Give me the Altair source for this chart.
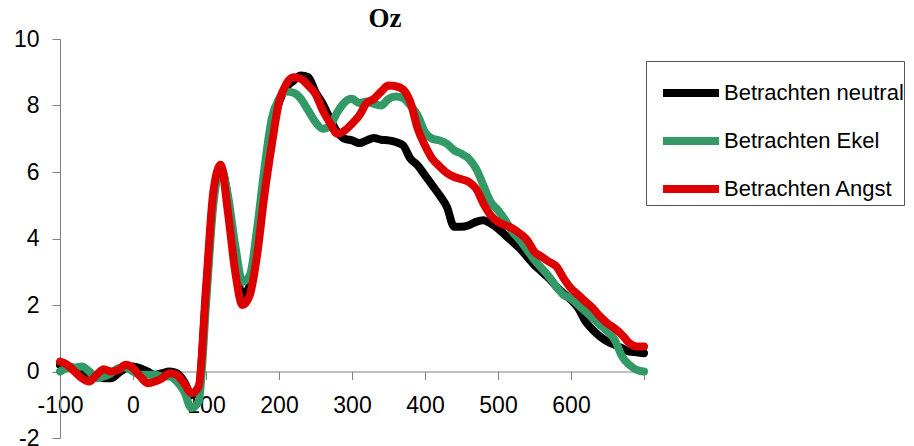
import altair as alt
import pandas as pd

times = list(range(-100, 701, 10))

neutral = [0.2, 0.15, 0.1, 0.0, -0.1, -0.15, -0.2, -0.2, -0.05, 0.1,
           0.15, 0.1, 0.0, -0.1, -0.05, 0.0, -0.05, -0.3, -0.7, -0.5,
           2.3, 5.2, 6.15, 5.2, 3.3, 2.3, 2.6, 3.8, 5.6, 7.2,
           8.1, 8.55, 8.75, 8.9, 8.85, 8.4, 8.05, 7.6, 7.2, 7.0,
           6.95, 6.87, 6.95, 7.02, 6.97, 6.95, 6.9, 6.8, 6.4, 6.2,
           5.9, 5.6, 5.3, 4.95, 4.35, 4.35, 4.4, 4.5, 4.55, 4.45,
           4.3, 4.1, 3.9, 3.7, 3.45, 3.2, 3.0, 2.8, 2.55, 2.35,
           2.15, 1.9, 1.5, 1.25, 1.05, 0.9, 0.8, 0.7, 0.6, 0.58, 0.55]

ekel = [0.0, 0.1, 0.12, 0.15, 0.0, -0.2, -0.15, -0.05, 0.1, 0.12,
        0.0, -0.1, -0.1, -0.1, -0.15, -0.15, -0.3, -0.6, -1.1, -0.9,
        2.0, 5.0, 6.1, 5.3, 3.8, 2.7, 2.9, 4.3, 6.1, 7.6,
        8.2, 8.42, 8.38, 8.2, 7.85, 7.5, 7.3, 7.4, 7.8, 8.1,
        8.2, 8.07, 8.12, 8.05, 8.0, 8.2, 8.27, 8.22, 8.0, 7.7,
        7.2, 7.0, 6.95, 6.85, 6.65, 6.55, 6.4, 6.1, 5.6, 5.1,
        4.85, 4.55, 4.2, 3.95, 3.65, 3.35, 3.1, 2.85, 2.55, 2.3,
        2.2, 2.0, 1.8, 1.6, 1.4, 1.2, 0.95, 0.45, 0.2, 0.05, 0.0]

angst = [0.3, 0.2, 0.0, -0.2, -0.3, -0.1, 0.07, 0.0, 0.05, 0.2,
         0.1, -0.15, -0.35, -0.3, -0.2, -0.05, -0.1, -0.35, -0.65, -0.45,
         2.5, 5.4, 6.22, 4.8, 3.0, 2.0, 2.3, 3.5, 5.3, 6.8,
         8.1, 8.65, 8.85, 8.8, 8.6, 8.35, 7.85, 7.47, 7.15, 7.25,
         7.45, 7.7, 8.07, 8.2, 8.42, 8.6, 8.58, 8.48, 8.1, 7.3,
         6.8, 6.4, 6.17, 5.97, 5.85, 5.78, 5.7, 5.5, 5.05, 4.7,
         4.5, 4.4, 4.3, 4.15, 3.95, 3.6, 3.45, 3.3, 3.16, 2.8,
         2.5, 2.3, 2.1, 1.9, 1.65, 1.45, 1.3, 1.1, 0.85, 0.75, 0.75]

series_names = ["Betrachten neutral", "Betrachten Ekel", "Betrachten Angst"]
series_colors = ["#000000", "#339966", "#DD0000"]
x_ticks = list(range(-100, 701, 100))
y_ticks = list(range(-2, 11, 2))

rows = []
for name, vals in zip(series_names, [neutral, ekel, angst]):
    for t, v in zip(times, vals):
        rows.append({"t": t, "v": v, "series": name})
df = pd.DataFrame(rows)

FONT = "Liberation Sans"
W, H = 584, 399

chart = alt.Chart(df).mark_line(
    strokeWidth=8, strokeCap="round", strokeJoin="round", interpolate="monotone"
).encode(
    x=alt.X("t:Q",
            scale=alt.Scale(domain=[-100, 700], nice=False, zero=False),
            axis=alt.Axis(values=x_ticks, title=None, grid=False, offset=-H * 2 / 12,
                          tickSize=8, labelPadding=15, labelFont=FONT, labelFontSize=23,
                          labelColor="#000000", domainColor="#808080", tickColor="#808080",
                          labelExpr="datum.value == 700 ? '' : '' + datum.value",
                          labelOverlap=False, labelFlush=False)),
    y=alt.Y("v:Q",
            scale=alt.Scale(domain=[-2, 10], nice=False, zero=False),
            axis=alt.Axis(values=y_ticks, title=None, grid=False,
                          tickSize=8, labelPadding=13, labelFont=FONT, labelFontSize=23,
                          labelColor="#000000", domainColor="#808080", tickColor="#808080",
                          labelExpr="'' + datum.value",
                          labelOverlap=False, labelFlush=False)),
    color=alt.Color("series:N",
                    scale=alt.Scale(domain=series_names, range=series_colors),
                    legend=alt.Legend(title=None, orient="none", legendX=586, legendY=22,
                                      symbolType="stroke", symbolSize=3136,
                                      symbolStrokeWidth=8, symbolOffset=13,
                                      labelFont=FONT,
                                      labelFontSize=22, labelColor="#000000",
                                      labelOffset=1, labelLimit=400, rowPadding=0,
                                      padding=0, strokeColor="#555555",
                                      fillColor="#ffffff")),
    order=alt.Order("t:Q"),
).properties(
    width=W, height=H,
    title=alt.TitleParams("Oz", font="Liberation Serif", fontSize=27, fontWeight="bold",
                          anchor="middle", dx=33, offset=-5, color="#000000"),
    padding={"left": 52, "top": 31, "right": 262, "bottom": 8},
    autosize="none",
).configure_view(stroke=None)

chart.save("out.html", embed_options={"renderer": "svg", "actions": False})
